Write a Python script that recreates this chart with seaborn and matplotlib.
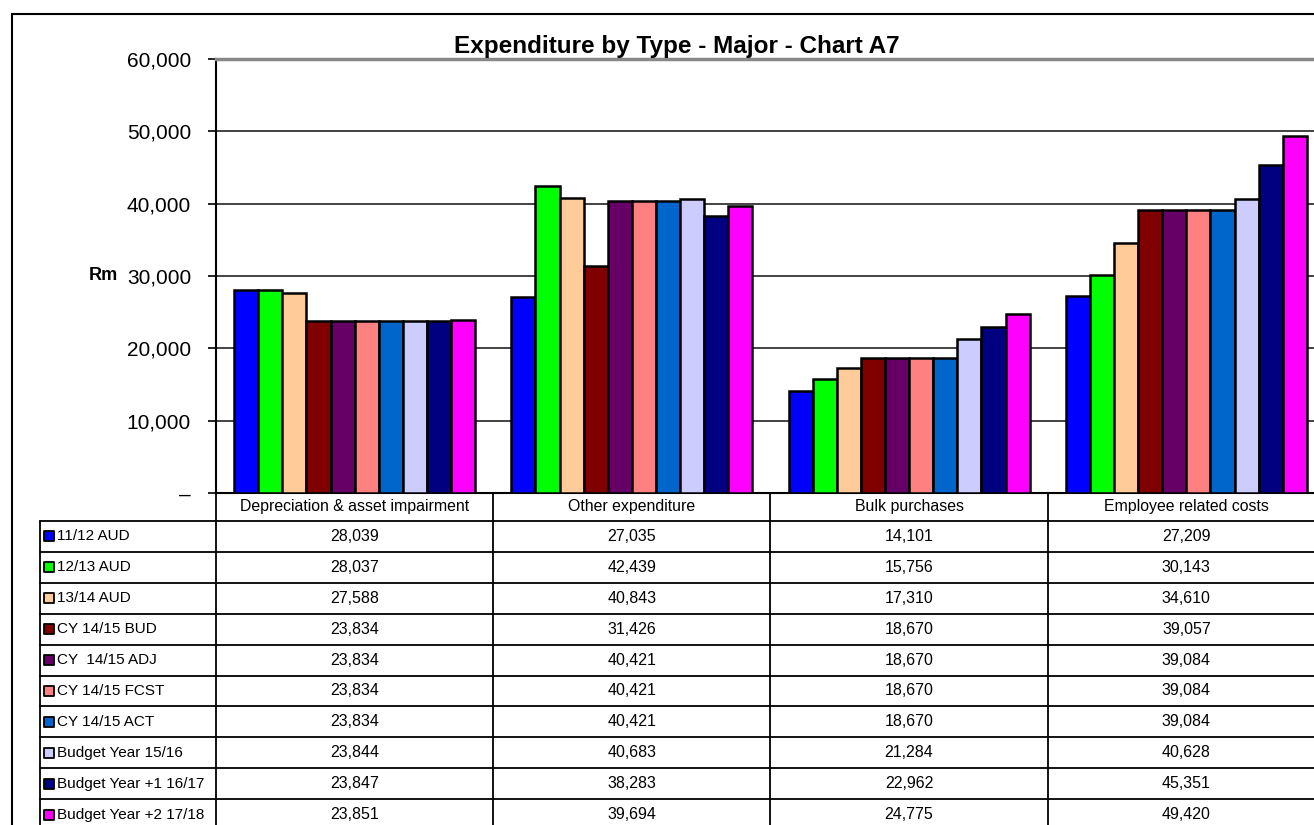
import pandas as pd
import matplotlib.pyplot as plt
import seaborn as sns
from matplotlib.patches import Rectangle
from matplotlib.ticker import FuncFormatter

categories = ["Depreciation & asset impairment", "Other expenditure",
              "Bulk purchases", "Employee related costs"]
series = ["11/12 AUD", "12/13 AUD", "13/14 AUD", "CY 14/15 BUD", "CY  14/15 ADJ",
          "CY 14/15 FCST", "CY 14/15 ACT", "Budget Year 15/16",
          "Budget Year +1 16/17", "Budget Year +2 17/18"]
colors = ["#0000FF", "#00FF00", "#FFCC99", "#800000", "#660066",
          "#FF8080", "#0066CC", "#CCCCFF", "#000080", "#FF00FF"]

depreciation = [28039, 28037, 27588, 23834, 23834, 23834, 23834, 23844, 23847, 23851]
other_exp = [27035, 42439, 40843, 31426, 40421, 40421, 40421, 40683, 38283, 39694]
bulk = [14101, 15756, 17310, 18670, 18670, 18670, 18670, 21284, 22962, 24775]
employee = [27209, 30143, 34610, 39057, 39084, 39084, 39084, 40628, 45351, 49420]

yticks = [0, 10000, 20000, 30000, 40000, 50000, 60000]


def build_frame() -> pd.DataFrame:
    rows = []
    for cat, vals in zip(categories, [depreciation, other_exp, bulk, employee]):
        for s, v in zip(series, vals):
            rows.append({"category": cat, "series": s, "value": v})
    return pd.DataFrame(rows)


sns.set_style("white")
plt.rcParams["font.family"] = ["Liberation Sans", "DejaVu Sans"]
plt.rcParams["text.color"] = "black"
plt.rcParams["axes.labelcolor"] = "black"

W, H = 1314, 825
fig = plt.figure(figsize=(W / 100, H / 100), dpi=100)

# plot area spans past the right edge, like the cropped original
left, right, top, bottom = 216, 1325, 59, 493
ax = fig.add_axes([left / W, 1 - bottom / H, (right - left) / W, (bottom - top) / H])

df = build_frame()
sns.barplot(data=df, x="category", y="value", hue="series", palette=colors,
            hue_order=series, order=categories, errorbar=None, width=0.87,
            saturation=1, edgecolor="black", linewidth=1.8, legend=False,
            ax=ax, zorder=3)

ax.set_xlim(-0.5, len(categories) - 0.5)
ax.set_ylim(0, 60000)
ax.set_yticks(yticks)
ax.yaxis.set_major_formatter(FuncFormatter(lambda v, p: "\u2013" if v == 0 else f"{v:,.0f}"))
ax.tick_params(axis="y", left=True, length=6, width=1.2, pad=12, labelsize=15, colors="black")
ax.set_xticks([])
ax.set_xlabel("")
ax.set_ylabel("Rm", rotation=0, fontsize=13, fontweight="bold", va="center", ha="center")
ax.yaxis.set_label_coords(-0.102, 0.502)
ax.yaxis.grid(True, color="#222222", linewidth=1.2, zorder=0)
ax.set_axisbelow(True)
for side in ["left", "bottom"]:
    ax.spines[side].set_color("black")
    ax.spines[side].set_linewidth(1.5)
ax.spines["top"].set_color("#888888")
ax.spines["top"].set_linewidth(2.5)
ax.spines["right"].set_visible(False)

# data table below the plot, sharing the category axis
row_h = 30.9
head_h = 28
n_rows = len(series)
tab_bottom = bottom + head_h + n_rows * row_h
ax_t = fig.add_axes([left / W, 1 - tab_bottom / H, (right - left) / W, (tab_bottom - bottom) / H])
ax_t.set_xlim(-0.5, len(categories) - 0.5)
head = head_h / row_h
ax_t.set_ylim(head + n_rows, 0)
ax_t.axis("off")

cat_px = (right - left) / len(categories)
label_left = -0.5 - (left - 40) / cat_px
line_kw = dict(color="black", linewidth=1.3, clip_on=False)

for i in range(len(categories) + 1):
    ax_t.plot([i - 0.5, i - 0.5], [0, head + n_rows], **line_kw)
ax_t.plot([label_left, label_left], [head, head + n_rows], **line_kw)
for r in range(n_rows + 1):
    ax_t.plot([label_left, len(categories) - 0.5], [head + r, head + r], **line_kw)

for i, cat in enumerate(categories):
    ax_t.text(i, head / 2, cat, ha="center", va="center", fontsize=11.4)

all_vals = [depreciation, other_exp, bulk, employee]
for r, (s, c) in enumerate(zip(series, colors)):
    yc = head + r + 0.5
    ax_t.scatter([label_left + 9 / cat_px], [yc], marker="s", s=45, color=c,
                 edgecolor="black", linewidth=1.3, clip_on=False, zorder=4)
    ax_t.text(label_left + 17 / cat_px, yc, s, ha="left", va="center", fontsize=11)
    for i, vals in enumerate(all_vals):
        ax_t.text(i, yc, f"{vals[r]:,}", ha="center", va="center", fontsize=11.5)

# outer chart border and title
fig.add_artist(Rectangle((12 / W, -0.1), 1.2, 1.1 - 14 / H, transform=fig.transFigure,
                         fill=False, edgecolor="black", linewidth=1.5))
fig.text(677 / W, 1 - 46 / H, "Expenditure by Type - Major - Chart A7",
         ha="center", va="center", fontsize=17.5, fontweight="bold")

plt.savefig("out.png", dpi=100)
